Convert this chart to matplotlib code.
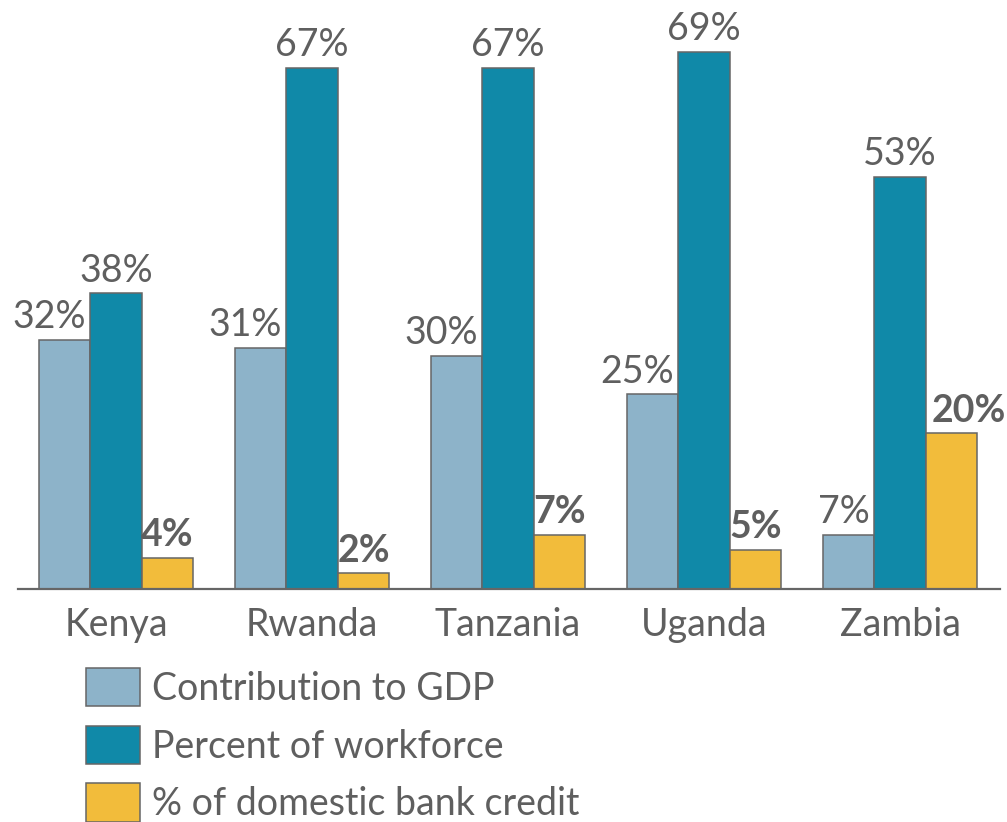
import matplotlib
matplotlib.use("Agg")
import matplotlib.pyplot as plt
from matplotlib.patches import Patch
import numpy as np

countries = ["Kenya", "Rwanda", "Tanzania", "Uganda", "Zambia"]
gdp = [32, 31, 30, 25, 7]
workforce = [38, 67, 67, 69, 53]
credit = [4, 2, 7, 5, 20]
series_names = ["Contribution to GDP", "Percent of workforce", "% of domestic bank credit"]

colors = ["#8DB3C9", "#1089A8", "#F2BC3B"]
edge = "#666666"
txt = "#5F5F5F"
plt.rcParams["font.family"] = ["Lato", "DejaVu Sans"]

fig = plt.figure(figsize=(10.07, 8.22), dpi=100)
ax = fig.add_axes([18 / 1007, 233 / 822, 982 / 1007, 589 / 822])

x = np.arange(len(countries))
w = 0.263
fs = 27

b1 = ax.bar(x - w, gdp, w, color=colors[0], edgecolor=edge, linewidth=1.1)
b2 = ax.bar(x, workforce, w, color=colors[1], edgecolor=edge, linewidth=1.1)
b3 = ax.bar(x + w, credit, w, color=colors[2], edgecolor=edge, linewidth=1.1)

for xi, v in zip(x, gdp):
    ax.annotate(f"{v}%", xy=(xi - w / 2, v), xytext=(-3, 8.5), textcoords="offset points",
                ha="right", va="baseline", fontsize=fs, color=txt)
for xi, v in zip(x, workforce):
    ax.annotate(f"{v}%", xy=(xi, v), xytext=(0, 8.5), textcoords="offset points",
                ha="center", va="baseline", fontsize=fs, color=txt)
for xi, v in zip(x, credit):
    if len(str(v)) > 1:
        ax.annotate(f"{v}%", xy=(xi + w / 2, v), xytext=(4, 8.5), textcoords="offset points",
                    ha="left", va="baseline", fontsize=fs, color=txt, fontweight="bold")
    else:
        ax.annotate(f"{v}%", xy=(xi + w, v), xytext=(0, 8.5), textcoords="offset points",
                    ha="center", va="baseline", fontsize=fs, color=txt, fontweight="bold")

ax.set_xlim(-0.5, 4.51)
ax.set_ylim(0, 75.7)
ax.set_xticks(x)
ax.set_xticklabels(countries, fontsize=fs, color=txt)
ax.tick_params(axis="x", length=0, pad=13)
ax.set_yticks([])
for s in ["top", "right", "left"]:
    ax.spines[s].set_visible(False)
ax.spines["bottom"].set_color(edge)
ax.spines["bottom"].set_linewidth(1.6)

handles = [Patch(facecolor=c, edgecolor=edge, linewidth=1.1) for c in colors]
leg = fig.legend(handles, series_names, loc="upper left", bbox_to_anchor=(86 / 1007, 1 - 668 / 822),
                 frameon=False, fontsize=fs, handlelength=1.44, handleheight=1.2,
                 handletextpad=0.32, labelspacing=0.5, borderaxespad=0, borderpad=0)
for t in leg.get_texts():
    t.set_color(txt)

fig.savefig("out.png", dpi=100)
